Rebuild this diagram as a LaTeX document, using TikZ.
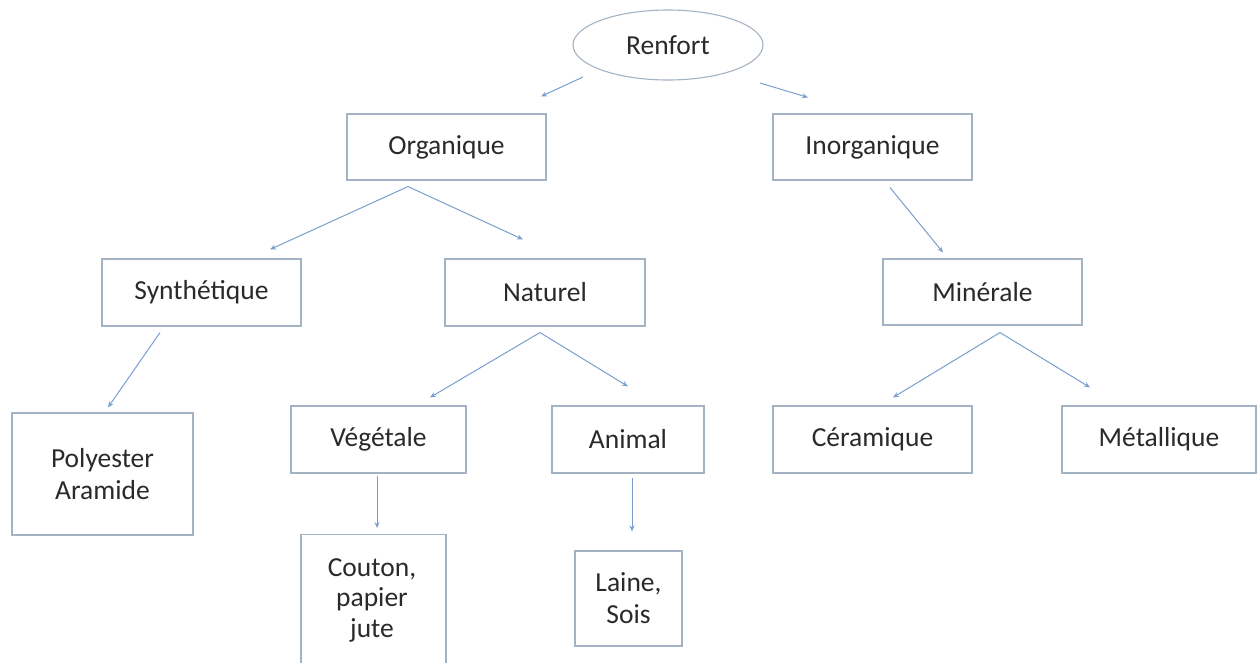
\documentclass[tikz,border=0pt]{standalone}
\usepackage{fontspec}
\setmainfont{Carlito}
\usetikzlibrary{arrows.meta,calc,shapes.geometric}
\definecolor{boxline}{HTML}{A3B3C4}
\definecolor{arrline}{HTML}{7A9FCE}
\definecolor{txt}{HTML}{2A2A2A}
\tikzset{
  box/.style={draw=boxline, line width=1.1pt, rectangle, inner sep=0pt, align=center,
    text=txt, font=\fontsize{27.5}{32}\selectfont},
  oval/.style={draw=boxline, line width=1.1pt, ellipse, inner sep=0pt, align=center,
    text=txt, font=\fontsize{27.5}{32}\selectfont},
  arr/.style={draw=arrline, line width=1pt, -{Stealth[length=6pt,width=5pt]}}
}
\begin{document}
\begin{tikzpicture}[x=1pt,y=-1pt]
\clip (0,0) rectangle (1258,662);
\fill[white] (0,0) rectangle (1258,662);
\node[oval, minimum width=190pt, minimum height=70pt] (ren) at (668,45) {Renfort};
\node[box, minimum width=199pt, minimum height=66pt] (org) at (446.5,147) {Organique};
\node[box, minimum width=199pt, minimum height=66pt] (inorg) at (872.5,147) {Inorganique};
\node[box, minimum width=199pt, minimum height=67pt] (syn) at (201.5,292.5) {Synthétique};
\node[box, minimum width=200pt, minimum height=67pt] (nat) at (545,292.5) {Naturel};
\node[box, minimum width=199pt, minimum height=66pt] (min) at (982.5,292) {Minérale};
\node[box, minimum width=181pt, minimum height=122pt] (poly) at (102.5,474) {Polyester\\Aramide};
\node[box, minimum width=175pt, minimum height=67pt] (veg) at (378.5,439.5) {Végétale};
\node[box, minimum width=152pt, minimum height=67pt] (ani) at (628,439.5) {Animal};
\node[box, minimum width=199pt, minimum height=67pt] (cer) at (872.5,439.5) {Céramique};
\node[box, minimum width=194pt, minimum height=67pt] (met) at (1159,439.5) {Métallique};
\node[box, minimum width=145pt, minimum height=150pt, anchor=north] (cou) at (373.5,534) {};
\node[text=txt, font=\fontsize{27.5}{30.5}\selectfont, align=center, inner sep=0pt] (coutxt) at (372,600) {Couton,\\papier\\jute};
\node[box, minimum width=107pt, minimum height=95pt] (lai) at (628.5,598.5) {Laine,\\Sois};

\draw[arr] ($(ren.center)+(-85,32)$) -- ($(org.north)+(94.5,-17)$);
\draw[arr] ($(ren.center)+(92,38)$) -- ($(inorg.north)+(-64.5,-16)$);
\draw[arr] ($(org.south)+(-38.5,6)$) -- ($(syn.north)+(68.5,-9)$);
\draw[arr] ($(org.south)+(-38.5,6)$) -- ($(nat.north)+(-22,-19)$);
\draw[arr] ($(inorg.south)+(17.5,7)$) -- ($(min.north)+(-39.5,-6)$);
\draw[arr] ($(syn.south)+(-41.5,6)$) -- ($(poly.north)+(5.5,-5)$);
\draw[arr] ($(nat.south)+(-5,6)$) -- ($(veg.north)+(51.5,-8)$);
\draw[arr] ($(nat.south)+(-5,6)$) -- ($(ani.north)+(0,-19)$);
\draw[arr] ($(veg.south)+(-1.5,2)$) -- ($(cou.north)+(3.5,-6)$);
\draw[arr] ($(ani.south)+(4,4)$) -- ($(lai.north)+(3.5,-19)$);
\draw[arr] ($(min.south)+(17.5,7)$) -- ($(cer.north)+(20.5,-8)$);
\draw[arr] ($(min.south)+(17.5,7)$) -- ($(met.north)+(-69,-18)$);
\end{tikzpicture}
\end{document}
